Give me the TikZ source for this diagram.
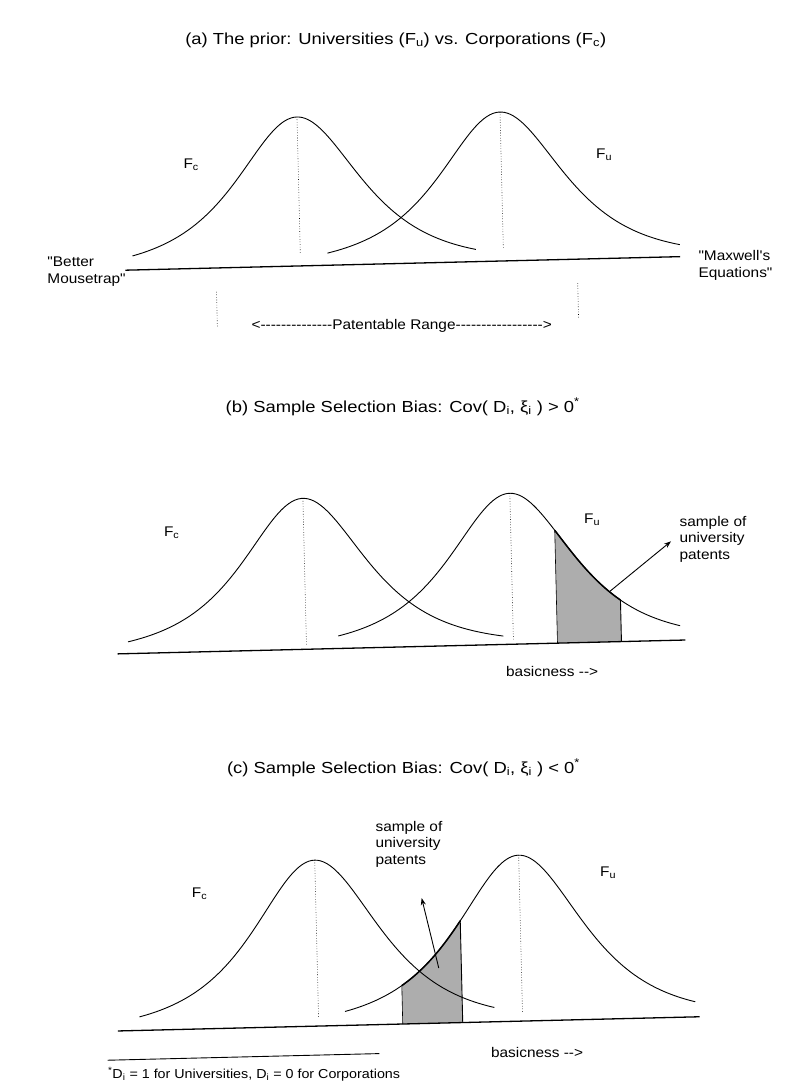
\documentclass[tikz,border=0pt]{standalone}
\usepackage{fontspec}
\setmainfont{Liberation Sans}[FakeStretch=1.1,Ligatures=TeXOff]
\newfontfamily\titlefont{Liberation Sans}[FakeStretch=1.15,Ligatures=TeXOff]
\usetikzlibrary{arrows.meta}
\tikzset{
  lbl/.style={font=\fontsize{14}{16.5}\selectfont, inner sep=0pt},
  ttl/.style={font=\titlefont\fontsize{16}{18}\selectfont, inner sep=0pt},
  fnote/.style={font=\fontsize{13}{15}\selectfont, inner sep=0pt},
  curve/.style={line width=0.9pt},
  axisline/.style={line width=1.3pt},
  peakline/.style={dotted, line width=0.6pt},
  shadefill/.style={fill=black!32},
  arr/.style={-{Stealth[length=7pt,width=5pt]}, line width=0.9pt},
}
% #2 mean, #3 baseline, #4 height, #5 scale, #6 from, #7 to
\newcommand\bell[7][]{\draw[curve,#1] plot[domain=#6:#7,samples=120,smooth] (\x,{#3-#4/cosh((\x-#2)/#5)});}
\begin{document}
\begin{tikzpicture}[x=1pt,y=-1pt]
\useasboundingbox (0,0) rectangle (796,1087);
\fill[white] (0,0) rectangle (796,1087);
\begin{scope}[rotate around={1.4:(398,543)}]
% ---------------- panel (a)
\node[ttl] (ta) at (408,40) {(a) The prior: Universities (F\textsubscript{u}) vs. Corporations (F\textsubscript{c})};
\draw[axisline] (132,263.6) -- (687,263.6);
\bell{307.4}{263.6}{149}{55}{139.6}{483}
\bell{510.5}{263.6}{149}{55}{334.6}{687}
\draw[peakline] (307.4,114.5) -- (307.4,251.6);
\draw[peakline] (510.5,114.5) -- (510.5,251.6);
\node[lbl] (fca) at (200.5,160) {F\textsubscript{c}};
\node[lbl] (fua) at (613.5,160) {F\textsubscript{u}};
\node[lbl,align=left,anchor=west] (mouse) at (54,263) {"Better\\Mousetrap"};
\node[lbl,align=left,anchor=west] (maxw) at (705,273) {"Maxwell's\\Equations"};
\draw[peakline] (222.7,287.5) -- (222.7,322.5);
\draw[peakline] (584,287.5) -- (584,322.5);
\node[lbl] (range) at (407,326) {<--------------Patentable Range----------------->};
% ---------------- panel (b)
\node[ttl] (tb) at (406,407) {(b) Sample Selection Bias: Cov( D\textsubscript{i}, ξ\textsubscript{i} ) > 0\textsuperscript{*}};
\fill[shadefill] (555,647) -- plot[domain=555:619,samples=40,smooth] (\x,{647-151/cosh((\x-511)/55)}) -- (619,647) -- cycle;
\draw[line width=0.6pt] (555,647) -- (555,{647-151/cosh((555-511)/55)});
\draw[line width=0.9pt] (619,647) -- (619,{647-151/cosh((619-511)/55)});
\draw[line width=1.5pt] plot[domain=555:619,samples=40,smooth] (\x,{647-151/cosh((\x-511)/55)});
\draw[axisline] (115,647) -- (683,647);
\bell{304}{647}{151}{55}{125.7}{501}
\bell{511}{647}{151}{55}{336}{678}
\draw[peakline] (304,496) -- (304,644);
\draw[peakline] (511,496) -- (511,644);
\node[lbl] (fcb) at (172,527.5) {F\textsubscript{c}};
\node[lbl] (fub) at (592.6,524.7) {F\textsubscript{u}};
\node[lbl,align=left,anchor=north west] (sampb) at (680,523) {sample of\\university\\patents};
\coordinate (bs) at (608,597);
\coordinate (be) at (671,548);
\draw[arr] (bs) -- (be);
\node[lbl] (basb) at (549,675) {basicness -->};
% ---------------- panel (c)
\node[ttl] (tc) at (398,768) {(c) Sample Selection Bias: Cov( D\textsubscript{i}, ξ\textsubscript{i} ) < 0\textsuperscript{*}};
\fill[shadefill] (391,1024) -- plot[domain=391:451,samples=40,smooth] (\x,{1024-166/cosh((\x-511)/56)}) -- (451,1024) -- cycle;
\draw[line width=0.6pt] (391,1024) -- (391,{1024-166/cosh((391-511)/56)});
\draw[line width=0.9pt] (451,1024) -- (451,{1024-166/cosh((451-511)/56)});
\draw[line width=1.5pt] plot[domain=391:451,samples=40,smooth] (\x,{1024-166/cosh((\x-511)/56)});
\draw[axisline] (106,1024) -- (688,1024);
\bell{307}{1024}{166}{56}{128}{483}
\bell{511}{1024}{166}{56}{333.6}{684}
\draw[peakline] (307,858) -- (307,1016);
\draw[peakline] (511,858) -- (511,1016);
\node[lbl] (fcc) at (191,889) {F\textsubscript{c}};
\node[lbl] (fuc) at (600,878) {F\textsubscript{u}};
\node[lbl,align=left,anchor=north west] (sampc) at (368.6,820.5) {sample of\\university\\patents};
\coordinate (cs) at (428.4,969);
\coordinate (ce) at (413,898.6);
\draw[arr] (cs) -- (ce);
\node[lbl] (basc) at (524.6,1055.4) {basicness -->};
% ---------------- footnote
\draw[line width=0.9pt] (95,1053) -- (367,1053);
\node[fnote,anchor=west] (fn) at (95,1067) {\textsuperscript{*}D\textsubscript{i} = 1 for Universities, D\textsubscript{i} = 0 for Corporations};
\end{scope}
\end{tikzpicture}
\end{document}
